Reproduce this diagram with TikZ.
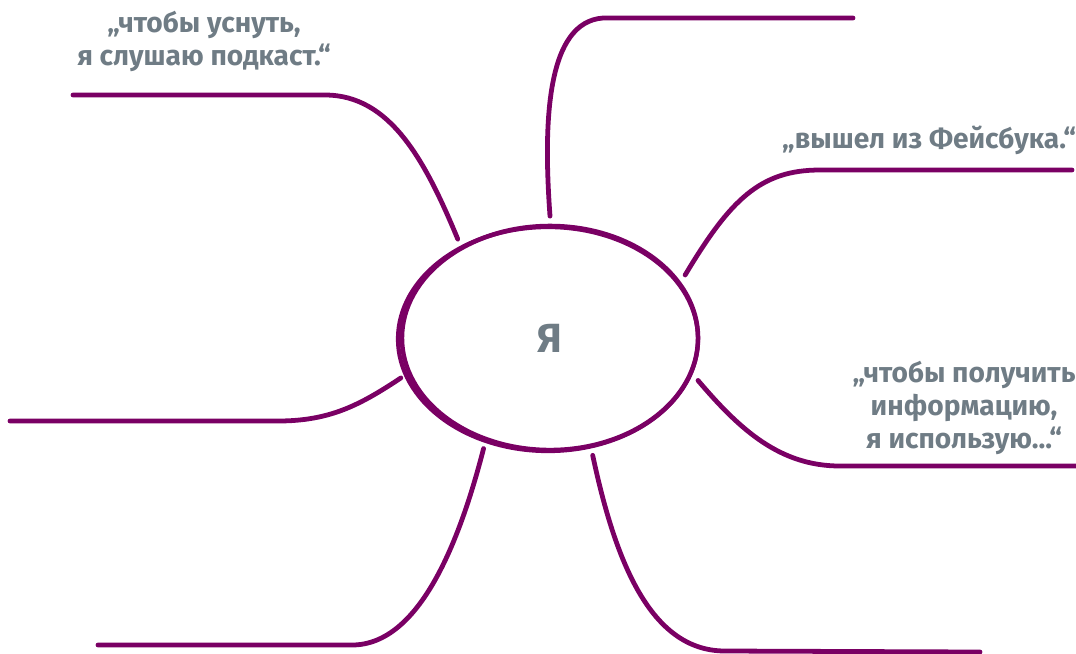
\documentclass[tikz,border=0pt]{standalone}
\usepackage{fontspec}
\setmainfont{Fira Sans}
\usepackage{tikz}
\usetikzlibrary{shapes.geometric,positioning,calc}

\definecolor{plum}{HTML}{7A0064}
\definecolor{slate}{HTML}{6F7C85}

\tikzset{
  branch/.style={draw=plum, line width=3.4pt, line cap=round},
  quote/.style={text=slate, font=\bfseries\fontsize{20}{23.5}\selectfont, align=center, inner sep=0pt}
}

\begin{document}
\begin{tikzpicture}[x=0.025cm, y=-0.025cm]
\useasboundingbox (0,0) rectangle (1076,653);
% centre
\node[ellipse, draw=plum, line width=3.2pt, minimum width=7.4cm, minimum height=5.6cm,
      inner sep=0pt, outer sep=7pt, text=slate, font=\bfseries\fontsize{29}{30}\selectfont] (ego) at (550,338) {Я};
\draw[plum, line width=3pt] (548,339) ellipse (150 and 112);
% branches
\coordinate (endA) at (73,95);
\coordinate (endB) at (853,18);
\coordinate (endC) at (1072,170);
\coordinate (endD) at (1080,466);
\coordinate (endE) at (980,652);
\coordinate (endF) at (98,645);
\coordinate (endG) at (10,421);
\draw[branch] (ego.133) .. controls (425,160) and (390,95) .. (325,95) -- (endA);
\draw[branch] (ego.90.5) .. controls (543,120) and (547,22) .. (603,18) -- (endB);
\draw[branch] (ego.25.6) .. controls (730,200) and (760,170) .. (820,170) -- (endC);
\draw[branch] (ego.344.5) .. controls (740,430) and (780,466) .. (840,466) -- (endD);
\draw[branch] (ego.290.6) .. controls (615,560) and (650,651) .. (725,651) -- (endE);
\draw[branch] (ego.239.6) .. controls (460,540) and (420,645) .. (352,645) -- (endF);
\draw[branch] (ego.195.5) .. controls (360,405) and (330,421) .. (278,421) -- (endG);
% labels
\node[quote] (sleep) at (204,41) {„чтобы уснуть,\\я слушаю подкаст.“};
\node[quote] (quit) at (929,140) {„вышел из Фейсбука.“};
\node[quote] (info) at (964,408) {„чтобы получить\\информацию,\\я использую...“};
\end{tikzpicture}
\end{document}
